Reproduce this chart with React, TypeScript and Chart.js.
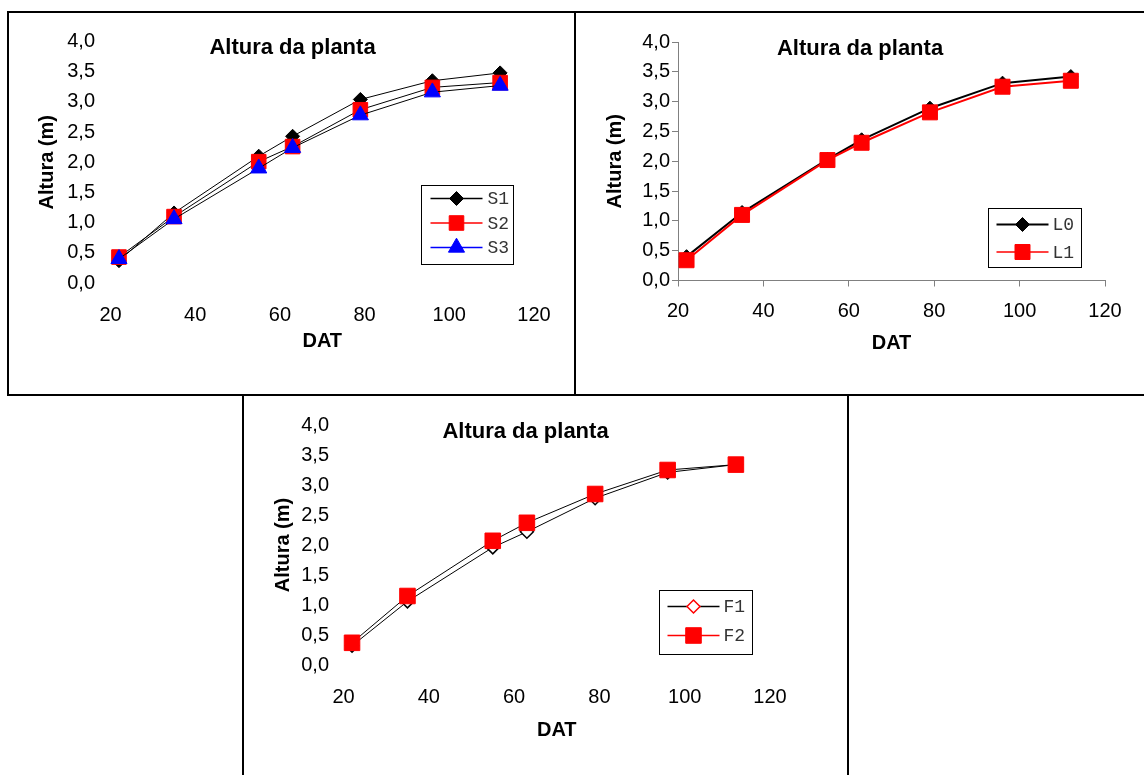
import React, { useEffect, useRef } from 'react';
import { Chart, registerables } from 'chart.js';

Chart.register(...registerables);

// ---------- data ----------
const DAT = [22, 35, 55, 63, 79, 96, 112];

const S1 = [0.37, 1.16, 2.10, 2.43, 3.04, 3.35, 3.48];
const S2 = [0.43, 1.10, 2.01, 2.26, 2.87, 3.24, 3.32];
const S3 = [0.40, 1.06, 1.90, 2.24, 2.78, 3.16, 3.27];

const L0 = [0.40, 1.14, 2.03, 2.36, 2.89, 3.31, 3.42];
const L1 = [0.34, 1.10, 2.02, 2.31, 2.82, 3.25, 3.35];

const F1 = [0.32, 1.06, 1.96, 2.22, 2.78, 3.21, 3.34];
const F2 = [0.37, 1.15, 2.07, 2.37, 2.85, 3.25, 3.34];

const X_MIN = 20;
const X_MAX = 120;
const X_STEP = 20;
const Y_MIN = 0;
const Y_MAX = 4;
const Y_STEP = 0.5;

const TITLE = 'Altura da planta';
const Y_TITLE = 'Altura (m)';
const X_TITLE = 'DAT';

// ---------- styling ----------
const SANS = '"Liberation Sans", Arial, Helvetica, sans-serif';
const MONO = '"Liberation Mono", "Courier New", monospace';

type Series = {
  label: string;
  data: number[];
  style: 'rect' | 'rectRot' | 'triangle';
  radius: number;
  fill: string;
  stroke: string;
  pointBorderWidth: number;
  lineColor: string;
  lineWidth: number;
  order: number;
  legendLine: string;
  legendLineWidth: number;
  legendFill: string;
  legendStroke: string;
};

type Panel = {
  canvas: { left: number; top: number; w: number; h: number };
  pad: { left: number; top: number; right: number; bottom: number };
  yWidth: number;
  xHeight: number;
  axes: boolean;
  yTickPad: number;
  xTickPad: number;
  legend: { x: number; y: number; w: number; h: number; rows: number[]; lineX0: number; lineX1: number; markerX: number; textX: number };
  series: Series[];
};

function drawMarker(ctx: CanvasRenderingContext2D, style: string, x: number, y: number, r: number, fill: string, stroke: string, lw: number) {
  ctx.beginPath();
  if (style === 'rect') {
    const s = r * Math.SQRT1_2;
    ctx.rect(x - s, y - s, 2 * s, 2 * s);
  } else if (style === 'rectRot') {
    ctx.moveTo(x - r, y);
    ctx.lineTo(x, y - r);
    ctx.lineTo(x + r, y);
    ctx.lineTo(x, y + r);
    ctx.closePath();
  } else {
    ctx.moveTo(x, y - r);
    ctx.lineTo(x + 0.866 * r, y + 0.5 * r);
    ctx.lineTo(x - 0.866 * r, y + 0.5 * r);
    ctx.closePath();
  }
  ctx.fillStyle = fill;
  ctx.fill();
  ctx.lineWidth = lw;
  ctx.strokeStyle = stroke;
  ctx.stroke();
}

const PANELS: Panel[] = [
  {
    canvas: { left: 9, top: 13, w: 565, h: 381 },
    pad: { left: 26, top: 28.5, right: 40, bottom: 41 },
    yWidth: 75.5,
    xHeight: 70,
    axes: false,
    yTickPad: 15.5,
    xTickPad: 20,
    legend: { x: 310.5, y: 143.5, w: 92, h: 79, rows: [13, 37.5, 62], lineX0: 9, lineX1: 61, markerX: 35, textX: 66 },
    series: [
      { label: 'S1', data: S1, style: 'rectRot', radius: 7, fill: '#000', stroke: '#000', pointBorderWidth: 1, lineColor: '#000', lineWidth: 1, order: 2, legendLine: '#000', legendLineWidth: 1.5, legendFill: '#000', legendStroke: '#000' },
      { label: 'S2', data: S2, style: 'rect', radius: 10.3, fill: '#ff0000', stroke: '#ff0000', pointBorderWidth: 1, lineColor: '#000', lineWidth: 1, order: 1, legendLine: '#ff0000', legendLineWidth: 1.5, legendFill: '#ff0000', legendStroke: '#ff0000' },
      { label: 'S3', data: S3, style: 'triangle', radius: 9.3, fill: '#0000ff', stroke: '#0000ff', pointBorderWidth: 1, lineColor: '#000', lineWidth: 1, order: 0, legendLine: '#0000ff', legendLineWidth: 1.5, legendFill: '#0000ff', legendStroke: '#0000ff' },
    ],
  },
  {
    canvas: { left: 576, top: 13, w: 568, h: 381 },
    pad: { left: 27, top: 29, right: 39, bottom: 38.5 },
    yWidth: 75,
    xHeight: 75,
    axes: true,
    yTickPad: 2,
    xTickPad: 13,
    legend: { x: 310, y: 166, w: 93, h: 59, rows: [16, 43.5], lineX0: 8, lineX1: 60, markerX: 34, textX: 64 },
    series: [
      { label: 'L0', data: L0, style: 'rectRot', radius: 7, fill: '#000', stroke: '#000', pointBorderWidth: 1, lineColor: '#000', lineWidth: 2, order: 1, legendLine: '#000', legendLineWidth: 2, legendFill: '#000', legendStroke: '#000' },
      { label: 'L1', data: L1, style: 'rect', radius: 10.6, fill: '#ff0000', stroke: '#ff0000', pointBorderWidth: 1, lineColor: '#ff0000', lineWidth: 2, order: 0, legendLine: '#ff0000', legendLineWidth: 1.5, legendFill: '#ff0000', legendStroke: '#ff0000' },
    ],
  },
  {
    canvas: { left: 244, top: 396, w: 603, h: 379 },
    pad: { left: 27, top: 29, right: 77, bottom: 33 },
    yWidth: 72.5,
    xHeight: 77,
    axes: false,
    yTickPad: 14.5,
    xTickPad: 20,
    legend: { x: 315.5, y: 165, w: 93, h: 64, rows: [16, 45], lineX0: 8, lineX1: 60, markerX: 34, textX: 64 },
    series: [
      { label: 'F1', data: F1, style: 'rectRot', radius: 6.5, fill: '#ffffff', stroke: '#000', pointBorderWidth: 1.5, lineColor: '#000', lineWidth: 1, order: 1, legendLine: '#000', legendLineWidth: 1.5, legendFill: '#ffffff', legendStroke: '#ff0000' },
      { label: 'F2', data: F2, style: 'rect', radius: 11, fill: '#ff0000', stroke: '#ff0000', pointBorderWidth: 1, lineColor: '#000', lineWidth: 1, order: 0, legendLine: '#ff0000', legendLineWidth: 1.5, legendFill: '#ff0000', legendStroke: '#ff0000' },
    ],
  },
];

const TITLE_DX = 182;
const TITLE_DY = 6.5;

function PanelChart({ panel }: { panel: Panel }) {
  const ref = useRef<HTMLCanvasElement | null>(null);

  useEffect(() => {
    if (!ref.current) return;
    const axisColor = '#808080';
    const deco = {
      id: 'deco',
      afterDraw(chart: any) {
        const { ctx, chartArea: a } = chart;
        ctx.save();
        ctx.font = `bold 22px ${SANS}`;
        ctx.fillStyle = '#000';
        ctx.textAlign = 'center';
        ctx.textBaseline = 'middle';
        ctx.fillText(TITLE, a.left + TITLE_DX, a.top + TITLE_DY);

        const L = panel.legend;
        const bx = Math.round(a.left + L.x) + 0.5;
        const by = Math.round(a.top + L.y) + 0.5;
        ctx.fillStyle = '#fff';
        ctx.fillRect(bx, by, L.w, L.h);
        ctx.lineWidth = 1;
        ctx.strokeStyle = '#000';
        ctx.strokeRect(bx, by, L.w, L.h);
        panel.series.forEach((s, i) => {
          const y = by + L.rows[i];
          ctx.beginPath();
          ctx.strokeStyle = s.legendLine;
          ctx.lineWidth = s.legendLineWidth;
          ctx.moveTo(bx + L.lineX0, y);
          ctx.lineTo(bx + L.lineX1, y);
          ctx.stroke();
          drawMarker(ctx, s.style, bx + L.markerX, y, s.radius, s.legendFill, s.legendStroke, s.pointBorderWidth);
          ctx.font = `18px ${MONO}`;
          ctx.fillStyle = '#333';
          ctx.textAlign = 'left';
          ctx.textBaseline = 'middle';
          ctx.fillText(s.label, bx + L.textX, y + 1);
        });
        ctx.restore();
      },
    };

    const chart = new Chart(ref.current, {
      type: 'line',
      data: {
        datasets: panel.series.map((s) => ({
          label: s.label,
          data: DAT.map((x, i) => ({ x, y: s.data[i] })),
          borderColor: s.lineColor,
          borderWidth: s.lineWidth,
          pointStyle: s.style,
          pointRadius: s.radius,
          pointBackgroundColor: s.fill,
          pointBorderColor: s.stroke,
          pointBorderWidth: s.pointBorderWidth,
          tension: 0,
          fill: false,
          order: s.order,
          clip: false,
        })),
      },
      options: {
        animation: false,
        responsive: false,
        maintainAspectRatio: false,
        devicePixelRatio: 1,
        events: [],
        layout: { padding: panel.pad },
        plugins: {
          legend: { display: false },
          tooltip: { enabled: false },
          title: { display: false },
        },
        scales: {
          x: {
            type: 'linear',
            min: X_MIN,
            max: X_MAX,
            ticks: {
              stepSize: X_STEP,
              padding: panel.xTickPad,
              color: '#000',
              font: { family: SANS, size: 20 },
              maxRotation: 0,
              autoSkip: false,
              callback: (v: any) => String(v),
            },
            grid: {
              display: panel.axes,
              drawOnChartArea: false,
              drawTicks: panel.axes,
              tickLength: 6,
              color: axisColor,
            },
            border: { display: panel.axes, color: axisColor, width: 1 },
            title: {
              display: true,
              text: X_TITLE,
              color: '#000',
              font: { family: SANS, size: 20, weight: 'bold' },
              padding: 0,
            },
            afterFit: (s: any) => {
              s.height = panel.xHeight;
            },
          },
          y: {
            type: 'linear',
            min: Y_MIN,
            max: Y_MAX,
            ticks: {
              stepSize: Y_STEP,
              padding: panel.yTickPad,
              color: '#000',
              font: { family: SANS, size: 20 },
              autoSkip: false,
              callback: (v: any) => Number(v).toFixed(1).replace('.', ','),
            },
            grid: {
              display: panel.axes,
              drawOnChartArea: false,
              drawTicks: panel.axes,
              tickLength: 6,
              color: axisColor,
            },
            border: { display: panel.axes, color: axisColor, width: 1 },
            title: {
              display: true,
              text: Y_TITLE,
              color: '#000',
              font: { family: SANS, size: 20, weight: 'bold' },
              padding: 0,
            },
            afterFit: (s: any) => {
              s.width = panel.yWidth;
            },
          },
        },
      } as any,
      plugins: [deco],
    });
    return () => chart.destroy();
  }, [panel]);

  const c = panel.canvas;
  return (
    <canvas
      ref={ref}
      width={c.w}
      height={c.h}
      style={{ position: 'absolute', left: c.left, top: c.top, width: c.w, height: c.h }}
    />
  );
}

const line = (left: number, top: number, width: number, height: number) => (
  <div style={{ position: 'absolute', left, top, width, height, background: '#000' }} />
);

export default function App() {
  return (
    <div style={{ position: 'absolute', left: 0, top: 0, width: 1144, height: 775, overflow: 'hidden', background: '#fff' }}>
      {PANELS.map((p, i) => (
        <PanelChart key={i} panel={p} />
      ))}
      {line(7, 11, 1137, 2)}
      {line(7, 394, 1137, 2)}
      {line(7, 11, 2, 385)}
      {line(574, 11, 2, 385)}
      {line(242, 394, 2, 381)}
      {line(847, 394, 2, 381)}
    </div>
  );
}
